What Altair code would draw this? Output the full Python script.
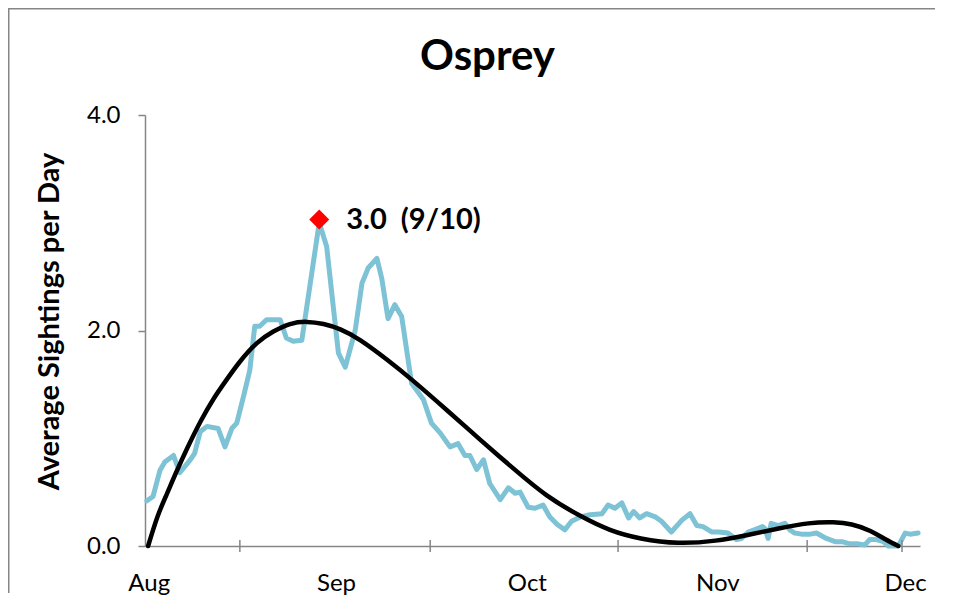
import altair as alt
import pandas as pd

# ---- data ----
blue_day = [0.3, 1.3, 2.4, 3.2, 4.6, 5.6, 7.3, 8.0, 8.9, 10.0, 11.8, 12.9, 14.0, 14.8,
            15.9, 16.9, 17.7, 18.5, 19.6, 21.8, 22.8, 23.9, 25.3, 28.1, 29.3, 30.6,
            31.2, 32.3, 33.9, 35.0, 36.0, 37.4, 38.2, 39.2, 40.3, 41.4, 43.0, 44.9,
            46.2, 47.6, 49.2, 50.5, 51.6, 52.4, 53.5, 54.6, 55.6, 57.3, 58.6, 59.7,
            60.5, 61.8, 62.9, 64.2, 65.3, 66.5, 67.7, 68.8, 70.2, 71.8, 73.7, 74.7,
            75.8, 76.9, 78.0, 78.8, 79.8, 80.9, 82.3, 83.3, 84.9, 86.6, 87.9, 89.0,
            90.0, 91.4, 92.5, 94.0, 95.4, 96.2, 97.3, 98.7, 99.6, 100.0, 100.5, 101.0,
            102.1, 103.2, 104.0, 104.8, 105.9, 107.3, 108.3, 109.9, 111.3, 112.4,
            113.7, 115.0, 116.1, 116.9, 118.0, 119.1, 119.9, 121.5, 122.6, 123.4, 124.7]
blue_val = [0.42, 0.46, 0.70, 0.78, 0.84, 0.68, 0.80, 0.86, 1.06, 1.11, 1.09, 0.92, 1.09, 1.14,
            1.39, 1.63, 2.04, 2.04, 2.10, 2.10, 1.93, 1.90, 1.91, 3.00, 2.78, 2.10,
            1.79, 1.66, 2.00, 2.44, 2.58, 2.67, 2.48, 2.11, 2.24, 2.13, 1.51, 1.36,
            1.14, 1.05, 0.92, 0.95, 0.84, 0.84, 0.71, 0.80, 0.58, 0.43, 0.54, 0.49,
            0.50, 0.36, 0.35, 0.38, 0.27, 0.20, 0.15, 0.23, 0.27, 0.29, 0.30, 0.38,
            0.35, 0.40, 0.26, 0.32, 0.26, 0.30, 0.27, 0.23, 0.13, 0.24, 0.30, 0.19,
            0.18, 0.13, 0.13, 0.12, 0.06, 0.07, 0.13, 0.16, 0.18, 0.16, 0.07, 0.21,
            0.19, 0.21, 0.15, 0.12, 0.11, 0.11, 0.12, 0.07, 0.04, 0.04,
            0.02, 0.02, 0.01, 0.06, 0.06, 0.04, 0.00, 0.00, 0.12, 0.11, 0.12]

# smooth trend curve, read point by point
trend_day = [0.5, 2.0, 3.5, 5.0, 7.0, 9.0, 11.0, 13.0, 15.3, 18.0, 20.7, 23.4, 26.1,
             28.8, 31.5, 34.7, 39.0, 43.3, 48.7, 54.0, 59.4, 64.8, 70.2, 75.0, 80.0,
             86.0, 92.0, 97.0, 102.0, 107.0, 111.0, 114.0, 117.0, 119.5, 121.5]
trend_val = [0.00, 0.27, 0.48, 0.68, 0.93, 1.16, 1.36, 1.53, 1.71, 1.88, 1.99, 2.06, 2.08,
             2.06, 2.01, 1.91, 1.73, 1.53, 1.26, 0.99, 0.72, 0.47, 0.28, 0.15, 0.07,
             0.03, 0.05, 0.10, 0.16, 0.21, 0.22, 0.20, 0.14, 0.06, 0.00]

month_labels = ["Aug", "Sep", "Oct", "Nov", "Dec"]
month_pos = [0.6, 30.8, 61.6, 92.3, 122.6]
tick_pos = [15.3, 46.0, 76.3, 106.8, 122.1]
y_ticks = [0, 2, 4]

peak_day = [28.1]
peak_val = [3.03]
peak_text = ["3.0\u00a0 (9/10)"]

# ---- styling ----
FONT = "Lato"
GRAY = "#868686"
BLUE = "#7DC3D5"

blue_df = pd.DataFrame({"day": blue_day, "val": blue_val})
trend_df = pd.DataFrame({"day": trend_day, "val": trend_val})
tick_df = pd.DataFrame({"day": tick_pos})
peak_df = pd.DataFrame({"day": peak_day, "val": peak_val, "txt": peak_text})

# label expression mapping tick values to month names
expr = "''"
for i in range(len(month_pos) - 1, -1, -1):
    expr = f"abs(datum.value - {month_pos[i]}) < 1 ? '{month_labels[i]}' : ({expr})"

x_scale = alt.Scale(domain=[0, 125], nice=False, zero=False)
y_scale = alt.Scale(domain=[0, 4], nice=False)

x_axis = alt.Axis(values=month_pos, labelExpr=expr, title=None, ticks=False, tickSize=0,
                  grid=False, domainColor=GRAY, domainWidth=1.5, labelFont=FONT,
                  labelFontSize=24, labelColor="black", labelPadding=25)
y_axis = alt.Axis(values=y_ticks, format=".1f", title="Average Sightings per Day",
                  titleFont=FONT, titleFontSize=29, titleFontWeight="bold", titleColor="black",
                  titleX=-81, titleY=206, titleAngle=-90, titleBaseline="bottom", titleAlign="center",
                  tickSize=7, tickColor=GRAY, tickWidth=1.5, domainColor=GRAY, domainWidth=1.5,
                  grid=False, labelFont=FONT, labelFontSize=24, labelColor="black",
                  labelPadding=18)

X = alt.X("day:Q", scale=x_scale, axis=x_axis)
Y = alt.Y("val:Q", scale=y_scale, axis=y_axis)

# chart-area border (only its top and left edges are visible in the reference),
# drawn as thin filled bars
frame_data = alt.Data(values=[{"a": 1}])
frame_top = alt.Chart(frame_data).mark_rect(fill=GRAY, strokeWidth=0).encode(
    x=alt.value(-137), x2=alt.value(790), y=alt.value(-107), y2=alt.value(-105.5))
frame_left = alt.Chart(frame_data).mark_rect(fill=GRAY, strokeWidth=0).encode(
    x=alt.value(-137), x2=alt.value(-135.5), y=alt.value(-107), y2=alt.value(478))

blue = alt.Chart(blue_df).mark_line(
    color=BLUE, strokeWidth=5, strokeJoin="round", strokeCap="round"
).encode(x=X, y=Y)

trend = alt.Chart(trend_df).mark_line(
    color="black", strokeWidth=4.5, interpolate="natural", strokeCap="round"
).encode(x=X, y=Y)

ticks = alt.Chart(tick_df).mark_rule(color=GRAY, strokeWidth=1.5).encode(
    x=X,
    y=alt.datum(-0.055),
    y2=alt.datum(0.055),
)

peak = alt.Chart(peak_df).mark_point(
    shape="diamond", filled=True, color="#FF0000", size=400, opacity=1
).encode(x=X, y=Y)

peak_label = alt.Chart(peak_df).mark_text(
    align="left", baseline="middle", dx=27, font=FONT, fontSize=29, fontWeight="bold",
    color="black"
).encode(x=X, y=Y, text="txt:N")

chart = alt.layer(frame_top, frame_left, blue, trend, ticks, peak, peak_label).properties(
    width=775,
    height=431,
    autosize=alt.AutoSizeParams(type="none"),
    padding={"left": 137, "top": 107, "right": 20, "bottom": 50},
    title=alt.TitleParams("Osprey", font=FONT, fontSize=42, fontWeight="bold",
                          anchor="middle", dx=-45, offset=-71, color="black"),
).configure_view(stroke=None)

chart.save("out.html", embed_options={"renderer": "svg", "actions": False})
